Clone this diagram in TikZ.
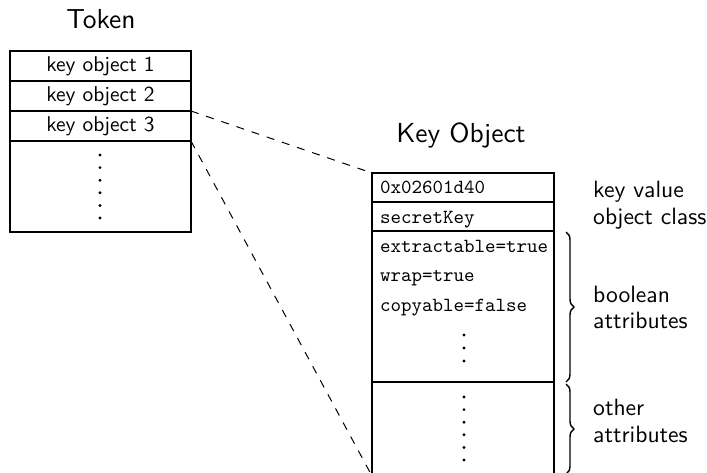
\documentclass[tikz,border=0pt]{standalone}
\usetikzlibrary{decorations.pathreplacing}
% Text is set at 10pt and enlarged, so the 10pt design of each font is used
\newcommand{\celltxt}[1]{\scalebox{2.14}{\fontsize{10}{12}\selectfont\sffamily #1}}
\newcommand{\headtxt}[1]{\scalebox{2.75}{\fontsize{10}{12}\selectfont\sffamily #1}}
\newcommand{\sidetxt}[1]{\scalebox{2.36}{\fontsize{10}{12}\selectfont\sffamily #1}}
\newcommand{\codetxt}[1]{\scalebox{2.0}{\fontsize{10}{12}\selectfont\ttfamily #1}}
\begin{document}
\begin{tikzpicture}[x=1pt,y=-1pt,
  box/.style={draw,line width=1.6pt,inner sep=0pt,outer sep=0pt,anchor=north west},
  tokrow/.style={box,minimum width=181pt,minimum height=30pt},
  keyrow/.style={box,minimum width=182pt},
  title/.style={inner sep=0pt,anchor=base},
  label/.style={inner sep=0pt,anchor=base west},
  link/.style={line width=1pt,dash pattern=on 8pt off 8pt},
  bracket/.style={line width=1.4pt,decorate,decoration={brace,amplitude=8pt}},
  dot/.style={fill=black}]
\useasboundingbox (0,0) rectangle (707,472);

% Token table
\node[title] (tokentitle) at (101,28) {\headtxt{Token}};
\node[tokrow] (t1) at (10,51) {\celltxt{key object 1}};
\node[tokrow] (t2) at (10,81) {\celltxt{key object 2}};
\node[tokrow] (t3) at (10,111) {\celltxt{key object 3}};
\node[box,minimum width=181pt,minimum height=91pt] (t4) at (10,141) {};
\foreach \y in {155,167.6,180.2,192.8,205.4,218}
  \fill[dot] (100,\y) circle (1.6pt);

% Key object table
\node[title] (keytitle) at (461,142) {\headtxt{Key Object}};
\node[keyrow,minimum height=29pt] (k1) at (372,173) {};
\node[keyrow,minimum height=29pt] (k2) at (372,202) {};
\node[keyrow,minimum height=151pt] (k3) at (372,231) {};
\node[keyrow,minimum height=94pt] (k4) at (372,382) {};

\node[label] (kval) at (380,193) {\codetxt{0x02601d40}};
\node[label] (kcls) at (380,223) {\codetxt{secretKey}};
\node[label] (kext) at (380,252) {\codetxt{extractable=true}};
\node[label] (kwrap) at (380,281) {\codetxt{wrap=true}};
\node[label] (kcopy) at (380,311) {\codetxt{copyable=false}};
\foreach \y in {335,348,361}
  \fill[dot] (464,\y) circle (1.6pt);
\foreach \y in {397,409.6,422.2,434.8,447.4,460}
  \fill[dot] (464,\y) circle (1.6pt);

% Links from the token entry to the key object
\draw[link] (t3.north east) -- (k1.north west);
\draw[link] (t3.south east) -- (k4.south west);

% Annotations
\node[label] (lval) at (593,197) {\sidetxt{key value}};
\node[label] (lcls) at (593,224) {\sidetxt{object class}};
\draw[bracket] (566,232) -- (566,382);
\node[label] (lbool1) at (593,302) {\sidetxt{boolean}};
\node[label] (lbool2) at (593,328) {\sidetxt{attributes}};
\draw[bracket] (566,384) -- (566,474);
\node[label] (loth1) at (593,415) {\sidetxt{other}};
\node[label] (loth2) at (593,442) {\sidetxt{attributes}};
\end{tikzpicture}
\end{document}
